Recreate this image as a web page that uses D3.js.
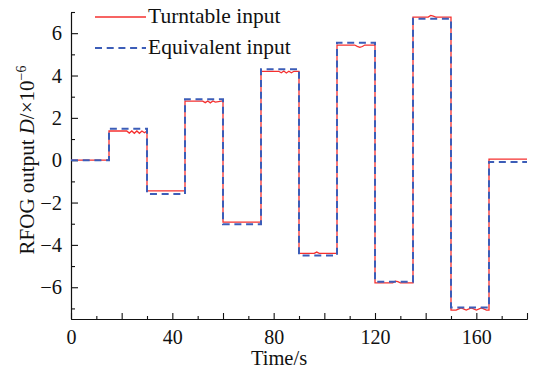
<!DOCTYPE html>
<html>
<head>
<meta charset="utf-8">
<script src="https://cdn.jsdelivr.net/npm/d3@7"></script>
<style>
  body { margin: 0; background: #fff; }
  text { font-family: "Liberation Serif", "Times New Roman", serif; fill: #111; }
</style>
</head>
<body>
<svg id="chart" width="535" height="373"></svg>
<script>
// Step boundaries (s) and the equivalent input level on each step (×10^-6).
const stepTimes        = [0, 15, 30, 45, 60, 75, 90, 105, 120, 135, 150, 165, 180];
const equivalentLevels = [0, 1.48, -1.6, 2.88, -3.02, 4.3, -4.5, 5.55, -5.74, 6.68, -6.96, -0.08];

// Turntable output, with the small ripples on the plateaus.
const turntableTime = [
  0, 15, 15, 22, 23, 24, 25, 26, 27, 28, 29, 30,
  30, 45,
  45, 52, 53, 54, 55, 56, 57, 60,
  60, 75,
  75, 82, 83, 84, 85, 86, 87, 88, 90,
  90, 96, 97, 98, 105,
  105, 112, 113, 114, 115, 116, 120,
  120, 127, 128, 129, 130, 135,
  135, 141, 142, 143, 144, 150,
  150, 152, 154, 156, 158, 160, 162, 164, 165,
  165, 180
];
const turntableValue = [
  0, 0, 1.38, 1.38, 1.28, 1.38, 1.27, 1.38, 1.27, 1.38, 1.3, 1.38,
  -1.45, -1.45,
  2.79, 2.79, 2.72, 2.8, 2.71, 2.8, 2.74, 2.8,
  -2.92, -2.92,
  4.2, 4.2, 4.13, 4.21, 4.12, 4.2, 4.13, 4.2, 4.2,
  -4.4, -4.4, -4.34, -4.4, -4.4,
  5.44, 5.44, 5.38, 5.33, 5.37, 5.44, 5.44,
  -5.79, -5.79, -5.71, -5.74, -5.79, -5.79,
  6.76, 6.76, 6.84, 6.8, 6.76, 6.76,
  -7.08, -7.08, -6.98, -7.08, -6.98, -7.08, -6.98, -7.08, -7.08,
  0.05, 0.05
];

const xTickLabels = [0, 40, 80, 120, 160];
const yTickLabels = [-6, -4, -2, 0, 2, 4, 6];

const svg = d3.select('#chart');
const x = d3.scaleLinear().domain([0, 180]).range([71, 527]);
const y = d3.scaleLinear().domain([-7.5, 7]).range([319, 12]);

// Axes: ticks point inward, minor every 10 s / 1 unit.
const xMinor = d3.range(10, 180, 20);
const xMajor = d3.range(0, 181, 20);
svg.append('g').attr('transform', `translate(0,${y(-7.5)})`)
  .call(d3.axisBottom(x).tickValues(xMinor).tickSize(-3).tickSizeOuter(0).tickFormat(''));
const gx = svg.append('g').attr('transform', `translate(0,${y(-7.5)})`)
  .call(d3.axisBottom(x).tickValues(xMajor).tickSize(-6).tickSizeOuter(0).tickPadding(11)
    .tickFormat(d => xTickLabels.includes(d) ? d : ''));
gx.selectAll('text').attr('font-size', 20).attr('font-family', '"Liberation Serif", serif').attr('fill', '#111');

const yMinor = d3.range(-7, 8, 2);
svg.append('g').attr('transform', `translate(${x(0)},0)`)
  .call(d3.axisLeft(y).tickValues(yMinor).tickSize(-4).tickSizeOuter(0).tickFormat(''));
const gy = svg.append('g').attr('transform', `translate(${x(0)},0)`)
  .call(d3.axisLeft(y).tickValues(yTickLabels).tickSize(-7).tickSizeOuter(0).tickPadding(9));
gy.selectAll('text').attr('font-size', 20.5).attr('font-family', '"Liberation Serif", serif').attr('fill', '#111');
svg.selectAll('.domain, .tick line').attr('stroke', '#111').attr('stroke-width', 1.1);

// Series.
const turntable = turntableTime.map((t, i) => [t, turntableValue[i]]);
const equivalent = [];
equivalentLevels.forEach((v, i) => {
  equivalent.push([stepTimes[i], v], [stepTimes[i + 1], v]);
});
const line = d3.line().x(d => x(d[0])).y(d => y(d[1]));

svg.append('path').datum(turntable)
  .attr('d', line).attr('fill', 'none')
  .attr('stroke', '#f5302f').attr('stroke-width', 1.3);
svg.append('path').datum(equivalent)
  .attr('d', line).attr('fill', 'none')
  .attr('stroke', '#3c5db8').attr('stroke-width', 2).attr('stroke-dasharray', '7,4.7');

// Legend.
const legend = svg.append('g');
legend.append('line').attr('x1', 95).attr('x2', 146).attr('y1', 17).attr('y2', 17)
  .attr('stroke', '#f5302f').attr('stroke-width', 1.3);
legend.append('text').attr('x', 148).attr('y', 23).attr('font-size', 21.5).text('Turntable input');
legend.append('line').attr('x1', 95).attr('x2', 146).attr('y1', 48).attr('y2', 48)
  .attr('stroke', '#3c5db8').attr('stroke-width', 2).attr('stroke-dasharray', '7,4.7');
legend.append('text').attr('x', 148).attr('y', 54).attr('font-size', 21.5).text('Equivalent input');

// Axis titles.
svg.append('text').attr('x', 279).attr('y', 365).attr('text-anchor', 'middle')
  .attr('font-size', 20.5).text('Time/s');
const yl = svg.append('text').attr('transform', 'translate(34,160) rotate(-90)')
  .attr('text-anchor', 'middle').attr('font-size', 21);
yl.append('tspan').text('RFOG output ');
yl.append('tspan').attr('font-style', 'italic').text('D');
yl.append('tspan').text('/×10');
yl.append('tspan').attr('font-size', 14).attr('dy', -8).text('−6');
</script>
</body>
</html>
